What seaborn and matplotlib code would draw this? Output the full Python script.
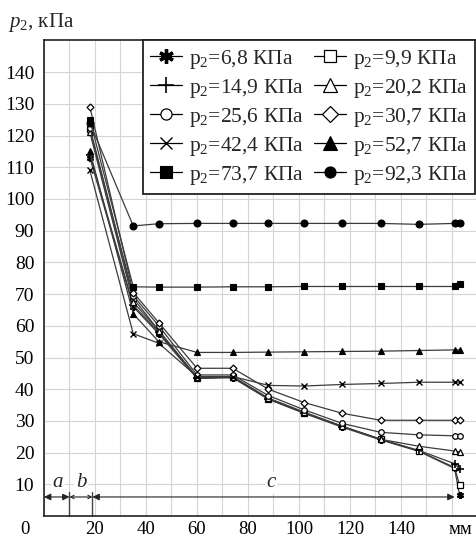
import numpy as np
import pandas as pd
import matplotlib
matplotlib.use("Agg")
import matplotlib.pyplot as plt
from matplotlib.transforms import ScaledTranslation
import seaborn as sns

# ---- data ----
x_mm = [18, 35, 45, 60, 74, 88, 102, 117, 132, 147, 161, 163]
p_6_8 = [113, 66.0, 57.5, 43.4, 43.6, 36.8, 32.4, 28.0, 24.0, 20.4, 15.0, 6.5]
p_9_9 = [122, 68.7, 58.5, 43.6, 43.8, 37.0, 32.6, 28.3, 24.2, 20.5, 15.3, 9.7]
p_14_9 = [114, 66.5, 58.0, 43.6, 43.8, 37.0, 32.5, 28.2, 24.2, 20.7, 16.5, 14.8]
p_20_2 = [121, 67.5, 58.5, 43.8, 44.0, 37.2, 32.8, 28.3, 24.2, 22.0, 20.5, 20.2]
p_25_6 = [122.5, 69.5, 60.0, 44.5, 44.5, 38.0, 33.5, 29.2, 26.4, 25.6, 25.3, 25.3]
p_30_7 = [129, 70.5, 61.0, 46.6, 46.6, 40.0, 35.8, 32.4, 30.2, 30.2, 30.2, 30.2]
p_42_4 = [109, 57.5, 54.5, 44.0, 44.0, 41.2, 41.0, 41.5, 41.8, 42.2, 42.2, 42.2]
p_52_7 = [115, 63.8, 55.0, 51.6, 51.6, 51.7, 51.8, 51.9, 52.0, 52.2, 52.4, 52.4]
p_73_7 = [125, 72.3, 72.2, 72.2, 72.3, 72.3, 72.4, 72.4, 72.4, 72.4, 72.4, 73.2]
p_92_3 = [124, 91.5, 92.2, 92.3, 92.3, 92.3, 92.3, 92.3, 92.3, 92.0, 92.3, 92.3]

series_labels = ["6,8", "9,9", "14,9", "20,2", "25,6", "30,7", "42,4", "52,7", "73,7", "92,3"]
series_values = [p_6_8, p_9_9, p_14_9, p_20_2, p_25_6, p_30_7, p_42_4, p_52_7, p_73_7, p_92_3]

zone_bounds = [0, 10, 19, 161]
zone_names = ["a", "b", "c"]
x_ticklabels = ["0", "20", "40", "60", "80", "100", "120", "140", "мм"]
x_ticklabel_pos = [0, 20, 40, 60, 80, 100, 120, 140, 160]
y_ticks = list(range(10, 150, 10))

# ---- style ----
sns.set_style("white")
plt.rcParams["font.family"] = ["Liberation Serif", "DejaVu Serif"]
plt.rcParams["mathtext.fontset"] = "custom"
plt.rcParams["mathtext.rm"] = "Liberation Serif"
plt.rcParams["mathtext.it"] = "Liberation Serif:italic"

markers = {
    "6,8": dict(marker=(6, 2, 0), mfc="black", mec="black", mew=1.6, ms=5),
    "9,9": dict(marker="s", mfc="white", mec="black", mew=0.9, ms=4),
    "14,9": dict(marker="+", mfc="black", mec="black", mew=1.2, ms=6),
    "20,2": dict(marker="^", mfc="white", mec="black", mew=0.9, ms=4.5),
    "25,6": dict(marker="o", mfc="white", mec="black", mew=0.9, ms=4),
    "30,7": dict(marker="D", mfc="white", mec="black", mew=0.9, ms=3.5),
    "42,4": dict(marker="x", mfc="black", mec="black", mew=1.0, ms=5),
    "52,7": dict(marker="^", mfc="black", mec="black", mew=0.8, ms=5),
    "73,7": dict(marker="s", mfc="black", mec="black", mew=0.8, ms=5),
    "92,3": dict(marker="o", mfc="black", mec="black", mew=0.8, ms=5),
}
legend_ms = {"6,8": 10.5, "9,9": 8, "14,9": 11, "20,2": 9.5, "25,6": 8, "30,7": 8.5,
             "42,4": 8, "52,7": 9.5, "73,7": 8, "92,3": 8}

fig = plt.figure(figsize=(4.77, 5.41), dpi=100)
ax = fig.add_axes([44 / 477, 1 - 516 / 541, 1 - 44 / 477, (516 - 40) / 541])

handles = {}
for lab, vals in zip(series_labels, series_values):
    df = pd.DataFrame({"x": x_mm, "p": vals})
    n_before = len(ax.get_lines())
    sns.lineplot(data=df, x="x", y="p", ax=ax, color="#3c3c3c", lw=0.9,
                 estimator=None, errorbar=None, sort=True,
                 label=f"p$_2$={lab} КПа", legend=False, **markers[lab])
    handles[lab] = ax.get_lines()[n_before]

ax.set_xlim(0, (477 - 44) / 2.55)
ax.set_ylim(0, (516 - 40) / 3.17)
ax.set_xlabel("")
ax.set_ylabel("")

ax.set_xticks(x_ticklabel_pos)
ax.set_xticklabels(x_ticklabels, fontsize=13.5)
ax.set_xticks(np.arange(10, 170, 20), minor=True)
ax.set_yticks(y_ticks)
ax.set_yticklabels([str(v) for v in y_ticks], fontsize=14)
ax.tick_params(axis="x", which="both", direction="inout", length=6, width=0.8, pad=0.5, colors="black")
ax.tick_params(axis="y", which="both", direction="out", length=5, width=0.8, pad=2, colors="black")
ax.grid(True, which="both", color="#d4d4d4", lw=0.8)
ax.set_axisbelow(True)

labs = ax.get_xticklabels()
labs[0].set_transform(labs[0].get_transform() + ScaledTranslation(-19 / 100, 0, fig.dpi_scale_trans))
labs[-1].set_transform(labs[-1].get_transform() + ScaledTranslation(8 / 100, 0, fig.dpi_scale_trans))

for side in ["left", "bottom", "top"]:
    ax.spines[side].set_color("#222222")
    ax.spines[side].set_linewidth(1.2)
ax.spines["right"].set_visible(False)

# zone annotation
for b in zone_bounds[1:3]:
    ax.plot([b, b], [0, 7.5], color="#444444", lw=1.0, clip_on=False)
arrow_y = 6
styles = ["<|-|>", "<->", "<|-|>"]
for i, st in enumerate(styles):
    ax.annotate("", xy=(zone_bounds[i], arrow_y), xytext=(zone_bounds[i + 1], arrow_y),
                arrowprops=dict(arrowstyle=st, color="#222222", lw=0.8,
                                shrinkA=0, shrinkB=0,
                                mutation_scale=10 if st != "<->" else 6))
name_x = [5.5, 14.5, 89]
for nx, nm in zip(name_x, zone_names):
    ax.text(nx, 10.5, nm, fontsize=15, style="italic", ha="center", va="center",
            bbox=dict(facecolor="white", edgecolor="none", pad=1))

# legend (row-wise order)
order = ["6,8", "14,9", "25,6", "42,4", "73,7", "9,9", "20,2", "30,7", "52,7", "92,3"]
leg = ax.legend([handles[k] for k in order], [handles[k].get_label() for k in order],
                ncol=2, loc="upper right", bbox_to_anchor=(0.996, 1.0),
                fontsize=15.5, markerscale=1.0, handlelength=1.5, handletextpad=0.3,
                columnspacing=0.45, labelspacing=0.28, borderpad=0.35,
                frameon=True, fancybox=False, framealpha=1, borderaxespad=0)
for k, h in zip(order, leg.legend_handles):
    h.set_markersize(legend_ms[k])
    h.set_color("black")
    if k == "6,8":
        h.set_markeredgewidth(2.4)
leg.get_frame().set_edgecolor("#222222")
leg.get_frame().set_linewidth(1.3)

fig.text(8 / 477, 1 - 22 / 541, "$p_2$, кПа", fontsize=15, ha="left", va="center")

fig.savefig("out.png", dpi=100)
